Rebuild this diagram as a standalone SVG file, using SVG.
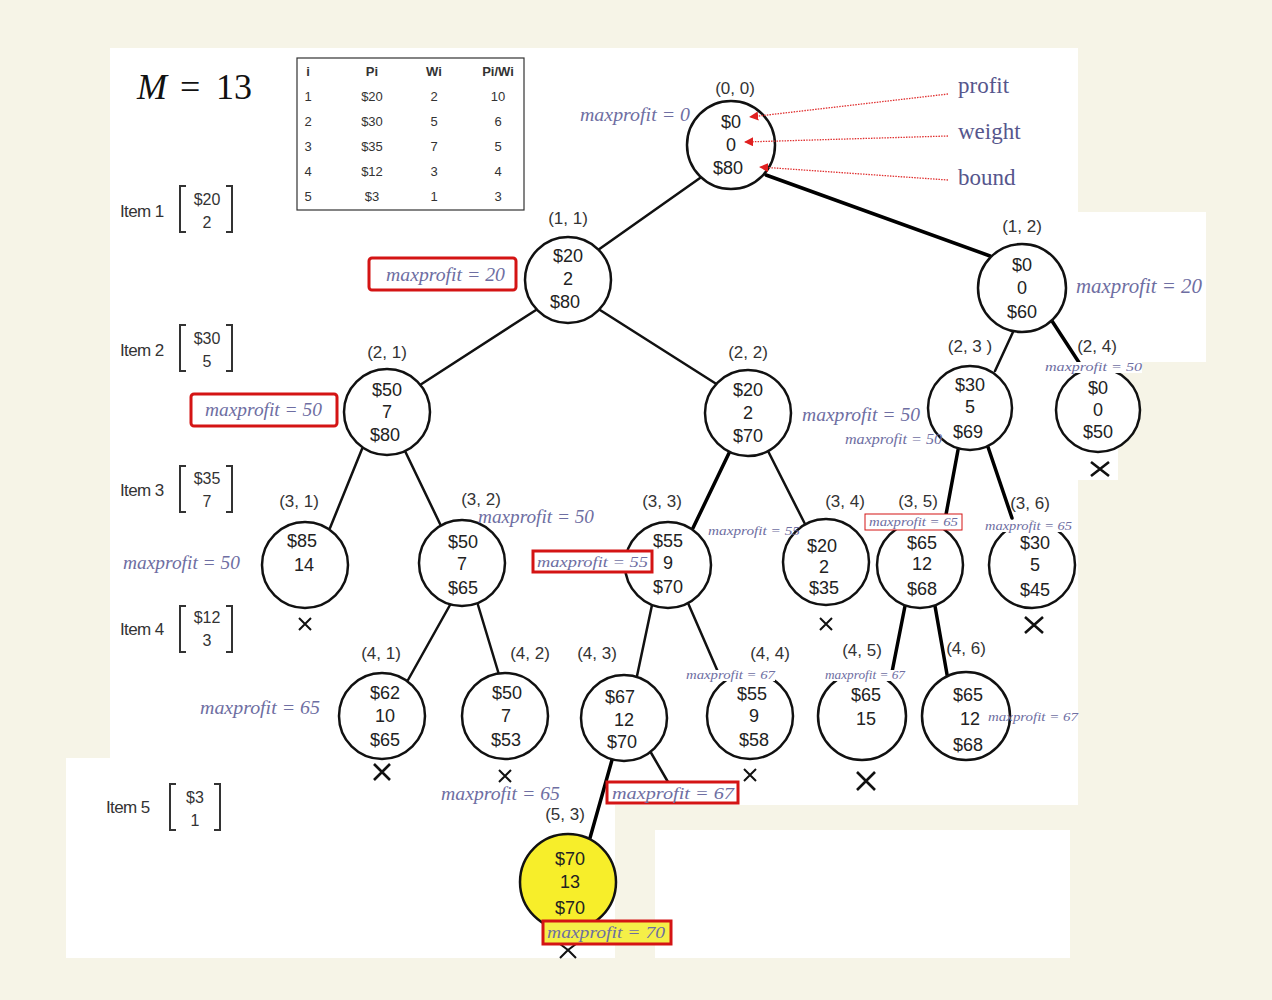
<svg xmlns="http://www.w3.org/2000/svg" width="1272" height="1000" viewBox="0 0 1272 1000">
<defs>
<style>
.bgc{fill:#f6f4e7}
.bgw{fill:#ffffff}
.nd{fill:#ffffff;stroke:#111;stroke-width:2.5}
.ndy{fill:#f7ee2a;stroke:#111;stroke-width:2.5}
.nt{font-family:"Liberation Sans",Arial,sans-serif;font-size:18px;fill:#222;text-anchor:middle}
.lb{font-family:"Liberation Sans",Arial,sans-serif;font-size:17px;fill:#333;text-anchor:middle}
.e{stroke:#111;stroke-width:2.5;fill:none;stroke-linecap:round}
.et{stroke:#000;stroke-width:3.5;fill:none;stroke-linecap:round}
.x{stroke:#111;stroke-width:2;fill:none}
.xb{stroke:#111;stroke-width:2.6;fill:none}
.mp{font-family:"Liberation Serif","Times New Roman",serif;font-style:italic;fill:#6e6ea2}
.rb{fill:#ffffff;stroke:#d41414;stroke-width:3}
.wb{fill:#ffffff}
.lg{font-family:"Liberation Serif","Times New Roman",serif;font-size:23px;fill:#56568c}
.ra{stroke:#e03030;stroke-width:1.3;stroke-dasharray:1.5 1.2;fill:none}
.tb{font-family:"Liberation Sans",Arial,sans-serif;font-size:13px;fill:#333;text-anchor:middle}
.it{font-family:"Liberation Sans",Arial,sans-serif;font-size:17px;fill:#333;letter-spacing:-0.6px}
.iv{font-family:"Liberation Sans",Arial,sans-serif;font-size:16px;fill:#333;text-anchor:middle}
.br{stroke:#333;stroke-width:2;fill:none}
</style>
<marker id="ah" viewBox="0 0 10 10" refX="9" refY="5" markerWidth="7" markerHeight="7" orient="auto">
<path d="M0,0 L10,5 L0,10 z" fill="#e02020"/>
</marker>
</defs>

<g id="background">
<rect class="bgc" x="0" y="0" width="1272" height="1000"/>
<rect class="bgw" x="110" y="48" width="968" height="757"/>
<rect class="bgw" x="1078" y="212" width="128" height="150"/>
<rect class="bgw" x="1078" y="362" width="40" height="118"/>
<rect class="bgw" x="66" y="758" width="549" height="200"/>
<rect class="bgw" x="655" y="830" width="415" height="128"/>
</g>

<g id="title">
<text x="137" y="99" font-family="Liberation Serif,serif" font-size="36" fill="#111"><tspan font-style="italic">M</tspan><tspan x="180">=</tspan><tspan x="216">13</tspan></text>
</g>

<g id="table">
<rect x="297" y="58" width="227" height="152" fill="#fff" stroke="#333" stroke-width="1.2"/>
<g class="tb" font-weight="bold">
<text x="308" y="76">i</text><text x="372" y="76">Pi</text><text x="434" y="76">Wi</text><text x="498" y="76">Pi/Wi</text>
</g>
<g class="tb">
<text x="308" y="101">1</text><text x="372" y="101">$20</text><text x="434" y="101">2</text><text x="498" y="101">10</text>
<text x="308" y="126">2</text><text x="372" y="126">$30</text><text x="434" y="126">5</text><text x="498" y="126">6</text>
<text x="308" y="151">3</text><text x="372" y="151">$35</text><text x="434" y="151">7</text><text x="498" y="151">5</text>
<text x="308" y="176">4</text><text x="372" y="176">$12</text><text x="434" y="176">3</text><text x="498" y="176">4</text>
<text x="308" y="201">5</text><text x="372" y="201">$3</text><text x="434" y="201">1</text><text x="498" y="201">3</text>
</g>
</g>

<g id="items">
<text class="it" x="120" y="217">Item 1</text>
<path class="br" d="M186,186 H180 V232 H186 M226,186 H232 V232 H226"/>
<text class="iv" x="207" y="205" font-size="15">$20</text><text class="iv" x="207" y="228">2</text>
<text class="it" x="120" y="356">Item 2</text>
<path class="br" d="M186,325 H180 V371 H186 M226,325 H232 V371 H226"/>
<text class="iv" x="207" y="344" font-size="15">$30</text><text class="iv" x="207" y="367">5</text>
<text class="it" x="120" y="496">Item 3</text>
<path class="br" d="M186,466 H180 V512 H186 M226,466 H232 V512 H226"/>
<text class="iv" x="207" y="484" font-size="15">$35</text><text class="iv" x="207" y="507">7</text>
<text class="it" x="120" y="635">Item 4</text>
<path class="br" d="M186,606 H180 V652 H186 M226,606 H232 V652 H226"/>
<text class="iv" x="207" y="623" font-size="15">$12</text><text class="iv" x="207" y="646">3</text>
<text class="it" x="106" y="813">Item 5</text>
<path class="br" d="M176,784 H170 V830 H176 M214,784 H220 V830 H214"/>
<text class="iv" x="195" y="803" font-size="17">$3</text><text class="iv" x="195" y="826">1</text>
</g>

<g id="connectors">
<line class="e" x1="700" y1="178" x2="598" y2="250"/>
<line class="et" x1="766" y1="175" x2="990" y2="256"/>
<line class="e" x1="536" y1="310" x2="420" y2="385"/>
<line class="e" x1="600" y1="310" x2="718" y2="385"/>
<line class="e" x1="1013" y1="332" x2="995" y2="371"/>
<line class="et" x1="1052" y1="321" x2="1080" y2="364"/>
<line class="e" x1="362" y1="449" x2="330" y2="528"/>
<line class="e" x1="405" y1="451" x2="442" y2="528"/>
<line class="et" x1="730" y1="451" x2="693" y2="528"/>
<line class="e" x1="768" y1="451" x2="806" y2="526"/>
<line class="et" x1="958" y1="450" x2="945" y2="520"/>
<line class="et" x1="988" y1="447" x2="1012" y2="518"/>
<line class="e" x1="450" y1="605" x2="408" y2="680"/>
<line class="e" x1="478" y1="605" x2="500" y2="678"/>
<line class="e" x1="652" y1="605" x2="637" y2="676"/>
<line class="e" x1="688" y1="603" x2="718" y2="672"/>
<line class="et" x1="905" y1="606" x2="892" y2="672"/>
<line class="et" x1="935" y1="606" x2="948" y2="680"/>
<line class="et" x1="612" y1="760" x2="590" y2="838"/>
<line class="e" x1="650" y1="751" x2="668" y2="782"/>
</g>

<g id="n00"><circle class="nd" cx="731" cy="145" r="44"/><text class="lb" x="735" y="94">(0, 0)</text><text class="nt" x="731" y="128">$0</text><text class="nt" x="731" y="151">0</text><text class="nt" x="728" y="174">$80</text></g>
<g id="n11"><circle class="nd" cx="568" cy="280" r="43"/><text class="lb" x="568" y="224">(1, 1)</text><text class="nt" x="568" y="262">$20</text><text class="nt" x="568" y="285">2</text><text class="nt" x="565" y="308">$80</text></g>
<g id="n12"><circle class="nd" cx="1022" cy="288" r="44"/><text class="lb" x="1022" y="232">(1, 2)</text><text class="nt" x="1022" y="271">$0</text><text class="nt" x="1022" y="294">0</text><text class="nt" x="1022" y="318">$60</text></g>
<g id="n21"><circle class="nd" cx="387" cy="412" r="43"/><text class="lb" x="387" y="358">(2, 1)</text><text class="nt" x="387" y="396">$50</text><text class="nt" x="387" y="418">7</text><text class="nt" x="385" y="441">$80</text></g>
<g id="n22"><circle class="nd" cx="748" cy="413" r="43"/><text class="lb" x="748" y="358">(2, 2)</text><text class="nt" x="748" y="396">$20</text><text class="nt" x="748" y="419">2</text><text class="nt" x="748" y="442">$70</text></g>
<g id="n23"><circle class="nd" cx="970" cy="408" r="42"/><text class="lb" x="970" y="352" font-size="15">(2, 3 )</text><text class="nt" x="970" y="391">$30</text><text class="nt" x="970" y="413" font-size="15">5</text><text class="nt" x="968" y="438">$69</text></g>
<g id="n24"><circle class="nd" cx="1098" cy="410" r="42"/><text class="lb" x="1097" y="352" font-size="15">(2, 4)</text><text class="nt" x="1098" y="394">$0</text><text class="nt" x="1098" y="416">0</text><text class="nt" x="1098" y="438">$50</text></g>
<g id="n31"><circle class="nd" cx="305" cy="565" r="43"/><text class="lb" x="299" y="507">(3, 1)</text><text class="nt" x="302" y="547">$85</text><text class="nt" x="304" y="571">14</text></g>
<g id="n32"><circle class="nd" cx="462" cy="563" r="43"/><text class="lb" x="481" y="505">(3, 2)</text><text class="nt" x="463" y="548">$50</text><text class="nt" x="462" y="570">7</text><text class="nt" x="463" y="594">$65</text></g>
<g id="n33"><circle class="nd" cx="668" cy="565" r="43"/><text class="lb" x="662" y="507">(3, 3)</text><text class="nt" x="668" y="547">$55</text><text class="nt" x="668" y="569">9</text><text class="nt" x="668" y="593">$70</text></g>
<g id="n34"><circle class="nd" cx="826" cy="562" r="43"/><text class="lb" x="845" y="507">(3, 4)</text><text class="nt" x="822" y="552" font-size="16">$20</text><text class="nt" x="824" y="573" font-size="15">2</text><text class="nt" x="824" y="594" font-size="16">$35</text></g>
<g id="n35"><circle class="nd" cx="920" cy="565" r="43"/><text class="lb" x="918" y="507">(3, 5)</text><text class="nt" x="922" y="549">$65</text><text class="nt" x="922" y="570" font-size="16">12</text><text class="nt" x="922" y="595">$68</text></g>
<g id="n36"><circle class="nd" cx="1032" cy="565" r="43"/><text class="lb" x="1030" y="509">(3, 6)</text><text class="nt" x="1035" y="549">$30</text><text class="nt" x="1035" y="571">5</text><text class="nt" x="1035" y="596">$45</text></g>
<g id="n41"><circle class="nd" cx="382" cy="716" r="43"/><text class="lb" x="381" y="659">(4, 1)</text><text class="nt" x="385" y="699">$62</text><text class="nt" x="385" y="722" font-size="16">10</text><text class="nt" x="385" y="746">$65</text></g>
<g id="n42"><circle class="nd" cx="505" cy="716" r="43"/><text class="lb" x="530" y="659">(4, 2)</text><text class="nt" x="507" y="699">$50</text><text class="nt" x="506" y="722">7</text><text class="nt" x="506" y="746">$53</text></g>
<g id="n43"><circle class="nd" cx="624" cy="718" r="43"/><text class="lb" x="597" y="659">(4, 3)</text><text class="nt" x="620" y="703">$67</text><text class="nt" x="624" y="726" font-size="16">12</text><text class="nt" x="622" y="748">$70</text></g>
<g id="n44"><circle class="nd" cx="750" cy="716" r="43"/><text class="lb" x="770" y="659">(4, 4)</text><text class="nt" x="752" y="700">$55</text><text class="nt" x="754" y="722">9</text><text class="nt" x="754" y="746">$58</text></g>
<g id="n45"><circle class="nd" cx="862" cy="716" r="44"/><text class="lb" x="862" y="656">(4, 5)</text><text class="nt" x="866" y="701" font-size="19">$65</text><text class="nt" x="866" y="725">15</text></g>
<g id="n46"><circle class="nd" cx="966" cy="716" r="44"/><text class="lb" x="966" y="654">(4, 6)</text><text class="nt" x="968" y="701" font-size="19">$65</text><text class="nt" x="970" y="725">12</text><text class="nt" x="968" y="751" font-size="20">$68</text></g>
<g id="n53"><circle class="ndy" cx="568" cy="882" r="48"/><text class="lb" x="565" y="820">(5, 3)</text><text class="nt" x="570" y="865" font-size="19">$70</text><text class="nt" x="570" y="888" font-size="16">13</text><text class="nt" x="570" y="914" font-size="19">$70</text></g>

<g id="legend">
<text class="lg" x="958" y="93">profit</text>
<text class="lg" x="958" y="139">weight</text>
<text class="lg" x="958" y="185">bound</text>
<path class="ra" d="M948,94 L750,117" marker-end="url(#ah)"/>
<path class="ra" d="M948,136 L745,142" marker-end="url(#ah)"/>
<path class="ra" d="M948,180 L760,167" marker-end="url(#ah)"/>
</g>

<g id="prunes">
<path class="x" d="M299,618 L311,630 M311,618 L299,630"/>
<path class="x" d="M820,618 L832,630 M832,618 L820,630"/>
<path class="xb" d="M1091,462 L1109,476 M1109,462 L1091,476"/>
<path class="xb" d="M1025,617 L1043,633 M1043,617 L1025,633"/>
<path class="xb" d="M374,764 L390,780 M390,764 L374,780"/>
<path class="x" d="M499,770 L511,782 M511,770 L499,782"/>
<path class="x" d="M744,769 L756,781 M756,769 L744,781"/>
<path class="xb" d="M857,772 L875,790 M875,772 L857,790"/>
<path class="x" d="M560,944 L568,950 L576,944 M560,958 L568,950 L576,958"/>
</g>

<g id="maxprofit">
<text class="mp" x="580" y="121" font-size="18" textLength="110" lengthAdjust="spacingAndGlyphs">maxprofit = 0</text>
<rect class="rb" x="369" y="258" width="147" height="32" rx="3"/>
<text class="mp" x="386" y="281" font-size="19" textLength="119" lengthAdjust="spacingAndGlyphs">maxprofit = 20</text>
<rect class="rb" x="191" y="394" width="146" height="32" rx="3"/>
<text class="mp" x="205" y="416" font-size="19" textLength="117" lengthAdjust="spacingAndGlyphs">maxprofit = 50</text>
<text class="mp" x="1076" y="293" font-size="20" textLength="126" lengthAdjust="spacingAndGlyphs">maxprofit = 20</text>
<rect class="wb" x="1045" y="362" width="97" height="11"/>
<text class="mp" x="1045" y="371" font-size="13" textLength="97" lengthAdjust="spacingAndGlyphs">maxprofit = 50</text>
<text class="mp" x="802" y="421" font-size="19" textLength="118" lengthAdjust="spacingAndGlyphs">maxprofit = 50</text>
<text class="mp" x="845" y="444" font-size="14" textLength="97" lengthAdjust="spacingAndGlyphs">maxprofit = 50</text>
<text class="mp" x="123" y="569" font-size="18" textLength="117" lengthAdjust="spacingAndGlyphs">maxprofit = 50</text>
<text class="mp" x="478" y="523" font-size="18" textLength="116" lengthAdjust="spacingAndGlyphs">maxprofit = 50</text>
<rect class="rb" x="533" y="551" width="119" height="21"/>
<text class="mp" x="537" y="567" font-size="15" fill="#8a8ab2" textLength="111" lengthAdjust="spacingAndGlyphs">maxprofit = 55</text>
<text class="mp" x="708" y="535" font-size="13" textLength="92" lengthAdjust="spacingAndGlyphs">maxprofit = 55</text>
<rect x="865" y="514" width="97" height="16" fill="#fff" stroke="#d41414" stroke-width="1"/>
<text class="mp" x="869" y="526" font-size="12" textLength="89" lengthAdjust="spacingAndGlyphs">maxprofit = 65</text>
<rect class="wb" x="985" y="521" width="87" height="11"/>
<text class="mp" x="985" y="530" font-size="13" textLength="87" lengthAdjust="spacingAndGlyphs">maxprofit = 65</text>
<text class="mp" x="200" y="714" font-size="18" textLength="120" lengthAdjust="spacingAndGlyphs">maxprofit = 65</text>
<rect class="wb" x="686" y="670" width="89" height="11"/>
<text class="mp" x="686" y="679" font-size="13" textLength="89" lengthAdjust="spacingAndGlyphs">maxprofit = 67</text>
<rect class="wb" x="825" y="670" width="80" height="11"/>
<text class="mp" x="825" y="679" font-size="13" textLength="80" lengthAdjust="spacingAndGlyphs">maxprofit = 67</text>
<text class="mp" x="988" y="721" font-size="13" textLength="90" lengthAdjust="spacingAndGlyphs">maxprofit = 67</text>
<text class="mp" x="441" y="800" font-size="18" textLength="119" lengthAdjust="spacingAndGlyphs">maxprofit = 65</text>
<rect class="rb" x="607" y="782" width="131" height="21"/>
<text class="mp" x="612" y="799" font-size="17" textLength="122" lengthAdjust="spacingAndGlyphs">maxprofit = 67</text>
<rect x="543" y="921" width="128" height="23" fill="#f5ef48" stroke="#d41414" stroke-width="3"/>
<text class="mp" x="547" y="938" font-size="16" fill="#8a8a9a" textLength="118" lengthAdjust="spacingAndGlyphs">maxprofit = 70</text>
</g>
</svg>
